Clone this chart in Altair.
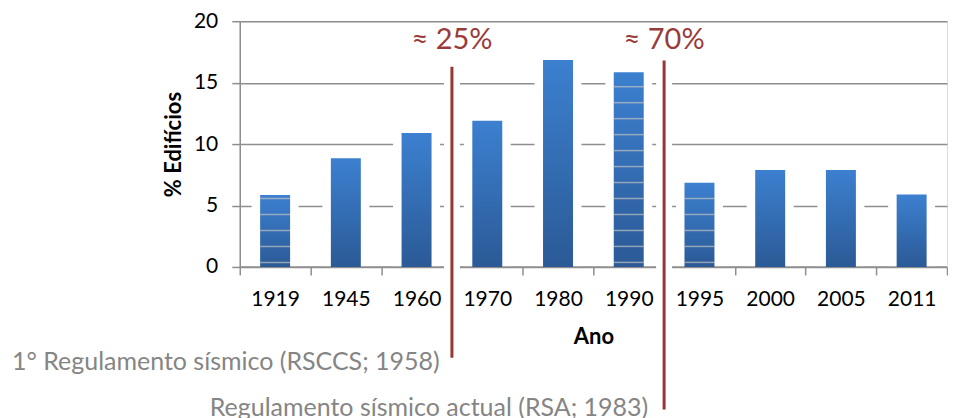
import altair as alt
import pandas as pd
import numpy as np

# ---- data ----
years = ["1919", "1945", "1960", "1970", "1980", "1990", "1995", "2000", "2005", "2011"]
pct = [5.85, 8.85, 10.9, 11.9, 16.85, 15.85, 6.85, 7.9, 7.9, 5.9]
striped_years = ["1919", "1990", "1995"]
reg_after = ["1960", "1990"]          # regulation lines sit after these bands
reg_share = ["≈ 25%", "≈ 70%"]
reg_names = ["1° Regulamento sísmico (RSCCS; 1958)", "Regulamento sísmico actual (RSA; 1983)"]
y_ticks = [0, 5, 10, 15, 20]

FONT = "Lato"
RED = "#953735"
GRAY_TXT = "#858585"
GRID = "#8e8e8e"

bars = pd.DataFrame({"year": years, "pct": pct})
one = pd.DataFrame({"k": [0]})

# hatch lines on the striped bars (a fill pattern, spaced every 1.3 units)
rows = []
for y, v in zip(years, pct):
    if y in striped_years:
        for s in np.arange(0.37, v - 0.15, 1.3):
            rows.append({"year": y, "s": float(s)})
stripes = pd.DataFrame(rows)

xscale = alt.Scale(domain=years, paddingInner=0, paddingOuter=0)
yscale = alt.Scale(domain=[0, 20])

X = alt.X("year:N", scale=xscale, title="Ano",
          axis=alt.Axis(labelAngle=0, tickBand="extent", domain=False,
                        tickSize=8, tickColor=GRID, tickWidth=1.5,
                        labelFontSize=21, labelPadding=14, labelColor="black",
                        titleFontSize=22, titleFontWeight="bold", titlePadding=17,
                        titleColor="black"))
Y = alt.Y("pct:Q", scale=yscale, title="% Edifícios",
          axis=alt.Axis(values=y_ticks, grid=True, gridColor=GRID, gridWidth=1.5,
                        domainColor=GRID, domainWidth=1.5, tickSize=8, tickColor=GRID,
                        tickWidth=1.5, labelFontSize=21, labelPadding=14,
                        labelColor="black", titleFontSize=22, titleFontWeight="bold",
                        titlePadding=8, titleColor="black"))

base = alt.Chart(bars)

halo = base.mark_bar(color="white", size=47).encode(x=X, y=Y)

baseline = alt.Chart(one).mark_rule(color=GRID, strokeWidth=1.5).encode(y=alt.datum(0))

grad = alt.Gradient(gradient="linear",
                    stops=[alt.GradientStop(color="#3c80d0", offset=0),
                           alt.GradientStop(color="#2b5a96", offset=1)],
                    x1=0, x2=0, y1=0, y2=1)
blue = base.mark_bar(color=grad, size=30).encode(x=X, y=Y)

hatch = alt.Chart(stripes).mark_tick(color="#c0c0c0", thickness=1.5, size=30,
                                    orient="horizontal").encode(
    x=alt.X("year:N", scale=xscale),
    y=alt.Y("s:Q", scale=yscale))


def reg_line(year, top, bottom, label):
    d = alt.Chart(pd.DataFrame({"year": [year]}))
    xx = alt.X("year:N", scale=xscale, bandPosition=1)
    h = d.mark_rule(color="white", strokeWidth=16, clip=False).encode(
        x=xx, y=alt.datum(top), y2=alt.datum(bottom))
    r = d.mark_rule(color=RED, strokeWidth=3, clip=False).encode(
        x=xx, y=alt.datum(top), y2=alt.datum(bottom))
    t = d.mark_text(color="#9a3b3b", font=FONT, fontSize=29, fontWeight="normal",
                    baseline="alphabetic", align="center").encode(
        x=xx, y=alt.datum(17.7), text=alt.value(label))
    return h + r + t


line1 = reg_line(reg_after[0], 16.3, -7.4, reg_share[0])
line2 = reg_line(reg_after[1], 16.8, -11.6, reg_share[1])

note1 = alt.Chart(one).mark_text(color=GRAY_TXT, font=FONT, fontSize=25, fontWeight="normal",
                                 align="left", baseline="alphabetic").encode(
    x=alt.value(-228), y=alt.value(349), text=alt.value(reg_names[0]))
note2 = alt.Chart(one).mark_text(color=GRAY_TXT, font=FONT, fontSize=25, fontWeight="normal",
                                 align="left", baseline="alphabetic").encode(
    x=alt.value(-30), y=alt.value(395), text=alt.value(reg_names[1]))

chart = alt.layer(halo, baseline, line1, line2, blue, hatch, note1, note2).properties(
    width=708, height=246,
    padding={"left": 4, "top": 2, "right": 0, "bottom": 0},
).configure_view(stroke=None).configure(font=FONT)

chart.save("out.html", embed_options={"renderer": "svg", "actions": False})
